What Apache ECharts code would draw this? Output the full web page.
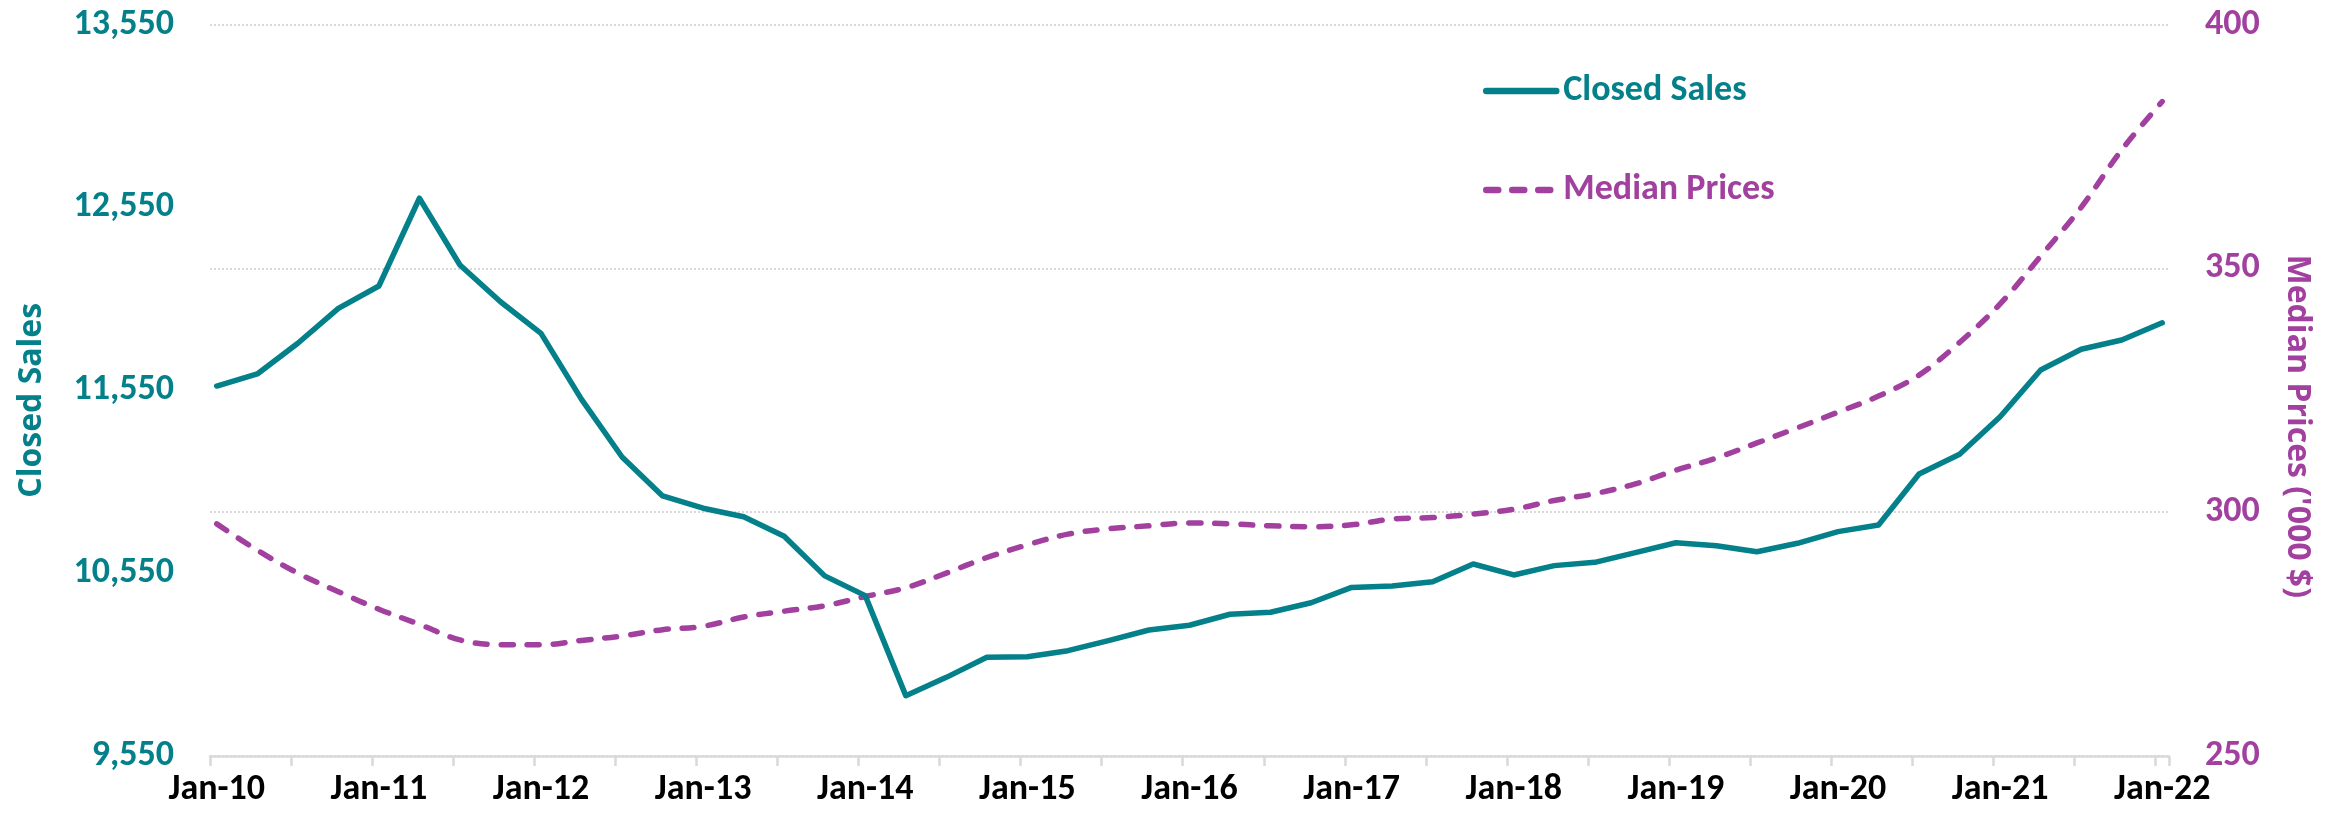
<!DOCTYPE html>
<html>
<head>
<meta charset="utf-8">
<script src="https://cdn.jsdelivr.net/npm/echarts@6/dist/echarts.min.js"></script>
<style>
  html, body { margin: 0; padding: 0; background: #ffffff; }
  #chart { width: 2344px; height: 822px; }
</style>
</head>
<body>
<div id="chart"></div>
<script>
// ---- Data (quarterly: Jan, Apr, Jul, Oct; Jan-10 .. Jan-22) ----
const monthNames = ['Jan','Feb','Mar','Apr','May','Jun','Jul','Aug','Sep','Oct','Nov','Dec'];
const startYear = 2010;
const endYear = 2022;

const closedSales = [
  11573, 11639, 11807, 11998,
  12120, 12600, 12235, 12034,
  11861, 11500, 11185, 10972,
  10905, 10858, 10752, 10535,
  10427, 9880, 9980, 10090,
  10093, 10126, 10181, 10239,
  10265, 10325, 10336, 10388,
  10472, 10480, 10503, 10600,
  10540, 10591, 10609, 10662,
  10716, 10700, 10667, 10713,
  10777, 10813, 11092, 11200,
  11405, 11661, 11774, 11825,
  11919
];

const medianPrices = [
  297.6, 292.2, 287.5, 283.7,
  280.1, 277.0, 273.8, 272.8,
  272.8, 273.7, 274.6, 275.9,
  276.6, 278.5, 279.7, 280.8,
  282.7, 284.5, 287.5, 290.7,
  293.3, 295.5, 296.6, 297.2,
  297.8, 297.6, 297.2, 297.0,
  297.4, 298.6, 298.9, 299.6,
  300.6, 302.4, 303.8, 305.8,
  308.6, 311.1, 314.2, 317.3,
  320.5, 323.8, 328.1, 334.8,
  342.7, 352.5, 362.5, 374.3,
  384.2
];

const salesTicks = [9550, 10550, 11550, 12550, 13550];
const priceTicks = [250, 300, 350, 400];

// ---- Build monthly category axis (Excel date axis style) ----
const categories = [];
for (let y = startYear; y <= endYear; y++) {
  for (let m = 0; m < 12; m++) {
    if (y === endYear && m > 0) break;
    categories.push(monthNames[m] + '-' + String(y).slice(2));
  }
}
function toMonthly(q) {
  const arr = new Array(categories.length).fill(null);
  q.forEach((v, i) => { arr[i * 3] = v; });
  return arr;
}

const teal = '#03808A';
const purple = '#A1409E';
const font = '"Liberation Sans Narrow", Carlito, Lato, "Roboto", sans-serif';

const chart = echarts.init(document.getElementById('chart'), null, { renderer: 'canvas' });
chart.setOption({
  animation: false,
  backgroundColor: '#ffffff',
  textStyle: { fontFamily: font },
  grid: { left: 210, right: 175, top: 24.5, bottom: 66, containLabel: false },
  legend: {
    orient: 'vertical',
    left: 1478,
    top: 68,
    itemWidth: 70,
    itemHeight: 14,
    itemGap: 63,
    selectedMode: false,
    itemStyle: { opacity: 0 },
    lineStyle: { width: 6.5, cap: 'round' },
    textStyle: { fontFamily: font, fontSize: 36, fontWeight: 'bold', padding: [0, 0, 0, 2] },
    data: [
      { name: 'Closed Sales', textStyle: { color: teal } },
      { name: 'Median Prices', textStyle: { color: purple } }
    ]
  },
  xAxis: {
    type: 'category',
    data: categories,
    boundaryGap: true,
    axisLine: { lineStyle: { color: '#D9D9D9', width: 2.5 } },
    axisTick: { show: true, interval: 5, length: 10, lineStyle: { color: '#D9D9D9', width: 2.5 } },
    axisLabel: { interval: 11, color: '#000000', fontSize: 36, fontWeight: 'bold', fontFamily: font, margin: 16 },
    splitLine: { show: false }
  },
  yAxis: [
    {
      type: 'value',
      position: 'left',
      min: 9550,
      max: 13550,
      name: 'Closed Sales',
      nameLocation: 'middle',
      nameGap: 162,
      nameTextStyle: { color: teal, fontSize: 32, fontWeight: 'bold', fontFamily: '"Open Sans", sans-serif', padding: [0, 20, 0, 0] },
      axisLine: { show: false },
      axisTick: { show: false },
      splitLine: { show: false },
      axisLabel: {
        customValues: salesTicks,
        color: teal, fontSize: 36, fontWeight: 'bold', fontFamily: font, margin: 36,
        formatter: v => v.toLocaleString('en-US')
      }
    },
    {
      type: 'value',
      position: 'right',
      min: 250,
      max: 400,
      interval: 50,
      name: "Median Prices ('000 $)",
      nameLocation: 'middle',
      nameRotate: -90,
      nameGap: 112,
      nameTextStyle: { color: purple, fontSize: 32, fontWeight: 'bold', fontFamily: '"Open Sans", sans-serif', padding: [0, 0, 0, 72] },
      axisLine: { show: false },
      axisTick: { show: false },
      splitLine: { show: true, lineStyle: { color: '#CDCDCD', width: 1.5, type: [2, 2] } },
      axisLabel: { color: purple, fontSize: 36, fontWeight: 'bold', fontFamily: font, margin: 36 }
    }
  ],
  series: [
    {
      name: 'Closed Sales',
      type: 'line',
      yAxisIndex: 0,
      data: toMonthly(closedSales),
      connectNulls: true,
      showSymbol: false,
      symbol: 'none',
      smooth: false,
      lineStyle: { color: teal, width: 5.5, cap: 'round', join: 'round' },
      itemStyle: { color: teal },
      z: 3
    },
    {
      name: 'Median Prices',
      type: 'line',
      yAxisIndex: 1,
      data: toMonthly(medianPrices),
      connectNulls: true,
      showSymbol: false,
      symbol: 'none',
      smooth: 0.35,
      lineStyle: { color: purple, width: 5.5, type: [12, 14], cap: 'round', join: 'round' },
      itemStyle: { color: purple },
      z: 2
    }
  ]
});
</script>
</body>
</html>
